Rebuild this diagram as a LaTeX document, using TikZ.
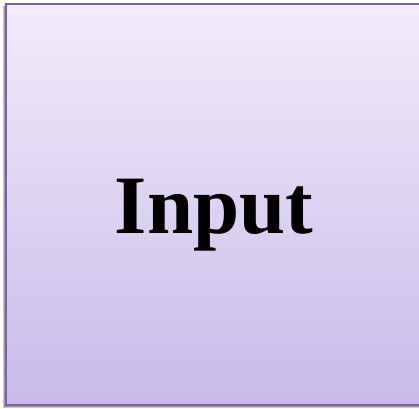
\documentclass[tikz,border=0pt]{standalone}
\usepackage{fontspec}
\setmainfont{Liberation Serif}
\begin{document}
\begin{tikzpicture}[x=1pt,y=1pt]
\definecolor{boxtop}{RGB}{242,236,250}
\definecolor{boxbot}{RGB}{200,186,234}
\definecolor{boxline}{RGB}{124,96,168}
\definecolor{shadowc}{RGB}{160,160,160}
\tikzset{boxstyle/.style={draw=boxline,line width=1.8pt,top color=boxtop,bottom color=boxbot},
  labelstyle/.style={font=\fontsize{83}{90}\selectfont\bfseries,text=black,inner sep=0pt,anchor=base}}
\useasboundingbox (0,0) rectangle (419,408);
\fill[shadowc!60] (3,0) rectangle (430,402);
\fill[shadowc] (4,1) rectangle (430,402);
\path[boxstyle] (6,3) rectangle (432,404);
\node[labelstyle] (lbl) at (214,175) {Input};
\end{tikzpicture}
\end{document}
